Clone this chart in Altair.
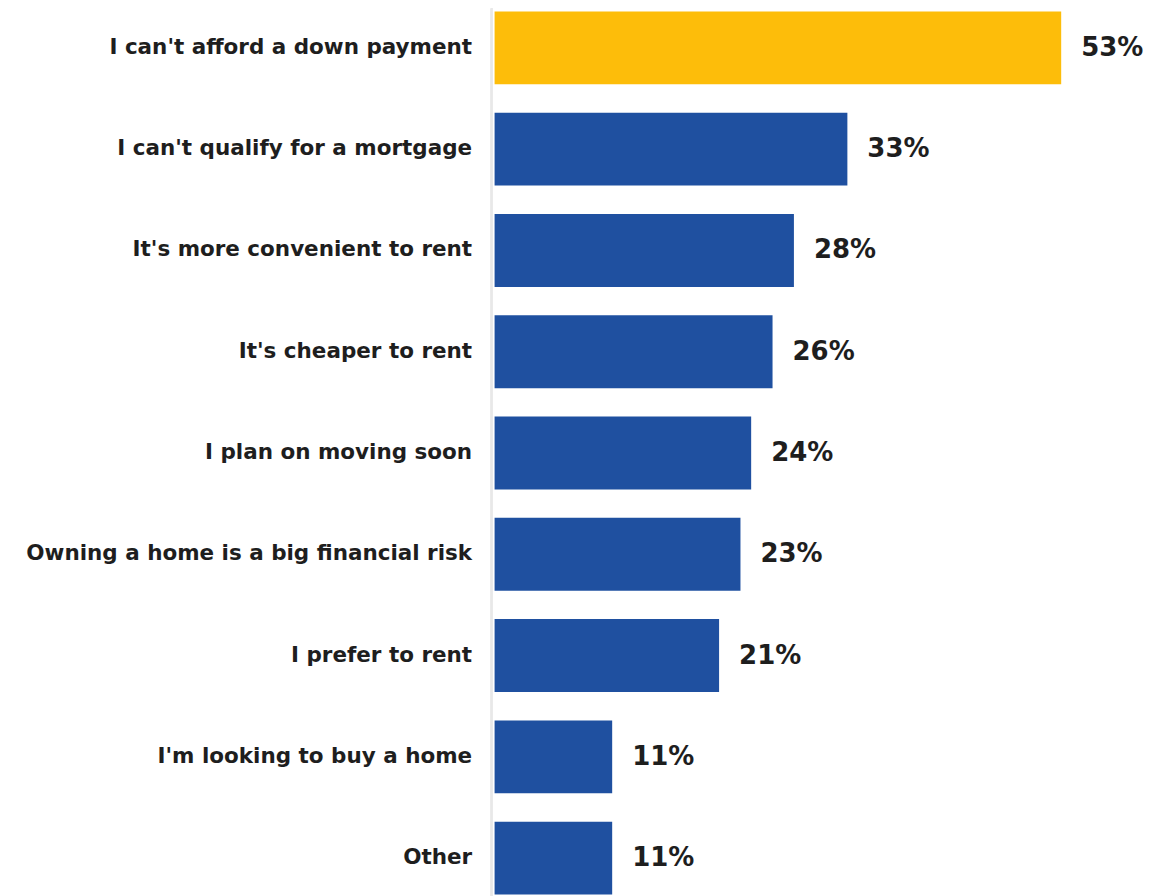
import altair as alt
import pandas as pd

categories = [
    "I can't afford a down payment",
    "I can't qualify for a mortgage",
    "It's more convenient to rent",
    "It's cheaper to rent",
    "I plan on moving soon",
    "Owning a home is a big financial risk",
    "I prefer to rent",
    "I'm looking to buy a home",
    "Other",
]
values = [53, 33, 28, 26, 24, 23, 21, 11, 11]
highlight = [True, False, False, False, False, False, False, False, False]

df = pd.DataFrame({
    "reason": categories,
    "pct": values,
    "hl": ["top" if h else "other" for h in highlight],
    "label": [f"{v}%" for v in values],
})

y = alt.Y(
    "reason:N",
    sort=categories,
    title=None,
    scale=alt.Scale(paddingInner=0.28, paddingOuter=0.03),
    axis=alt.Axis(
        labelFont="DejaVu Sans",
        labelFontWeight="bold",
        labelFontSize=21.5,
        labelColor="#1e1e1e",
        labelPadding=20,
        ticks=False,
        tickSize=0,
        domain=False,
        grid=False,
        offset=3,
        labelLimit=600,
    ),
)
x = alt.X("pct:Q", scale=alt.Scale(domain=[0, 60]), axis=None)

divider = alt.Chart(df).mark_rule(color="#e8e8e8", strokeWidth=1.5).encode(
    x=alt.value(-3)
)

bars = alt.Chart(df).mark_bar().encode(
    x=x,
    y=y,
    color=alt.Color(
        "hl:N",
        scale=alt.Scale(domain=["top", "other"], range=["#FDBD0A", "#1F50A0"]),
        legend=None,
    ),
)

text = alt.Chart(df).mark_text(
    align="left", baseline="middle", dx=20, font="DejaVu Sans", fontWeight="bold",
    fontSize=26, color="#1e1e1e"
).encode(x=x, y=y, text="label:N")

chart = (divider + bars + text).properties(
    width=642,
    height=890,
    padding={"left": 487, "top": 0, "right": 30, "bottom": 0},
    autosize="none",
    background="white",
).configure_view(stroke=None, strokeWidth=0).configure_axis(grid=False)

chart.save("out.html", embed_options={"renderer": "svg", "actions": False})
